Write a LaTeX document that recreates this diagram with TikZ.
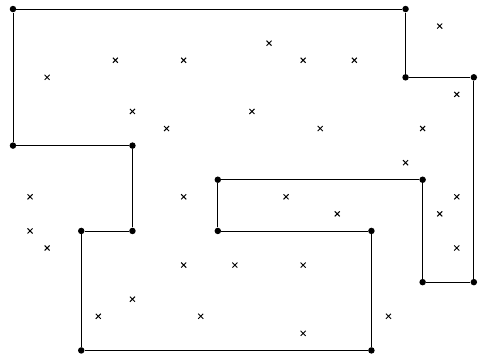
\documentclass[tikz,border=0pt]{standalone}
\usepackage{tikz}
\usetikzlibrary{shapes.misc}

\begin{document}
\begin{tikzpicture}[
    x=0.5cm, y=-0.5cm,
    corner/.style={circle, fill, inner sep=0pt, minimum size=5.4pt},
    sample/.style={cross out, draw, thick, inner sep=0pt, minimum size=3.4pt},
    edge/.style={line width=0.7pt}
]
    \useasboundingbox (-0.76,-0.53) rectangle (27.83,20.33);

    % corners of the region
    \node[corner] (v1) at (0,0) {};
    \node[corner] (v2) at (23,0) {};
    \node[corner] (v3) at (23,4) {};
    \node[corner] (v4) at (27,4) {};
    \node[corner] (v5) at (27,16) {};
    \node[corner] (v6) at (24,16) {};
    \node[corner] (v7) at (24,10) {};
    \node[corner] (v8) at (12,10) {};
    \node[corner] (v9) at (12,13) {};
    \node[corner] (v10) at (21,13) {};
    \node[corner] (v11) at (21,20) {};
    \node[corner] (v12) at (4,20) {};
    \node[corner] (v13) at (4,13) {};
    \node[corner] (v14) at (7,13) {};
    \node[corner] (v15) at (7,8) {};
    \node[corner] (v16) at (0,8) {};

    \draw[edge] (v1) -- (v2) -- (v3) -- (v4) -- (v5) -- (v6) -- (v7) -- (v8)
        -- (v9) -- (v10) -- (v11) -- (v12) -- (v13) -- (v14) -- (v15) -- (v16) -- (v1);

    % sample points
    \foreach \px/\py [count=\i] in {25/1, 15/2, 6/3, 10/3, 17/3, 20/3, 2/4, 26/5,
        7/6, 14/6, 9/7, 18/7, 24/7, 23/9, 1/11, 10/11, 16/11, 26/11, 19/12, 25/12,
        1/13, 2/14, 26/14, 10/15, 13/15, 17/15, 7/17, 5/18, 11/18, 22/18, 17/19}
        \node[sample] (p\i) at (\px,\py) {};
\end{tikzpicture}
\end{document}
